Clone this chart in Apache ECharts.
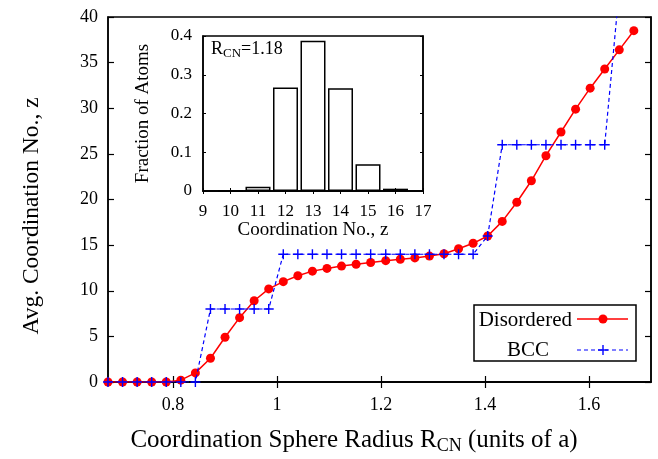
<!DOCTYPE html>
<html>
<head>
<meta charset="utf-8">
<script src="https://cdn.jsdelivr.net/npm/echarts@6/dist/echarts.min.js"></script>
<style>html,body{margin:0;padding:0;background:#fff}#c{width:658px;height:459px}</style>
</head>
<body>
<div id="c"></div>
<script>
// Main plot data
const radius = [0.675, 0.703, 0.731, 0.759, 0.787, 0.815, 0.843, 0.872, 0.900, 0.928,
  0.956, 0.984, 1.012, 1.040, 1.068, 1.096, 1.124, 1.152, 1.180, 1.209,
  1.237, 1.265, 1.293, 1.321, 1.349, 1.377, 1.405, 1.433, 1.461, 1.489,
  1.517, 1.546, 1.574, 1.602, 1.630, 1.658, 1.686];
const disordered = [0, 0, 0, 0, 0, 0.2, 1.0, 2.6, 4.9, 7.05,
  8.9, 10.2, 11.0, 11.65, 12.15, 12.45, 12.7, 12.9, 13.1, 13.3,
  13.45, 13.6, 13.8, 14.05, 14.6, 15.2, 16.0, 17.6, 19.7, 22.05,
  24.8, 27.4, 29.9, 32.2, 34.3, 36.4, 38.5];
const bcc = [0, 0, 0, 0, 0, 0, 0, 8, 8, 8,
  8, 8, 14, 14, 14, 14, 14, 14, 14, 14,
  14, 14, 14, 14, 14, 14, 16, 26, 26, 26,
  26, 26, 26, 26, 26, 43, 50];
const xTicks = [0.8, 1, 1.2, 1.4, 1.6];
const yTicks = [0, 5, 10, 15, 20, 25, 30, 35, 40];

// Inset histogram data (R_CN = 1.18)
const coordNo = [10, 11, 12, 13, 14, 15, 16];
const fraction = [0, 0.011, 0.267, 0.388, 0.265, 0.069, 0.006];
const insetXTicks = [9, 10, 11, 12, 13, 14, 15, 16, 17];

const FONT = 'Liberation Serif';
const chart = echarts.init(document.getElementById('c'), null, {renderer: 'canvas'});

const zip = (a, b) => a.map((v, i) => [v, b[i]]);

const plusPath = 'path://M4.3,0h1.4v10h-1.4z M0,4.3h10v1.4h-10z';

const option = {
  backgroundColor: '#fff',
  animation: false,
  textStyle: {fontFamily: FONT, color: '#000'},
  grid: [
    {left: 108, top: 17, width: 543, height: 365, show: true, borderColor: '#000', borderWidth: 1.5, backgroundColor: 'transparent', z: 1},
    {left: 203, top: 36, width: 220, height: 155, show: true, borderColor: '#000', borderWidth: 1.5, backgroundColor: '#fff', z: 10}
  ],
  xAxis: [
    {
      type: 'value', gridIndex: 0, min: 0.675, max: 1.719, position: 'bottom',
      axisLine: {show: true, lineStyle: {color: '#000', width: 1.5}},
      axisTick: {show: true, inside: true, length: 6, customValues: xTicks, lineStyle: {color: '#000', width: 1.2}},
      axisLabel: {show: true, customValues: xTicks, fontFamily: FONT, fontSize: 18, color: '#000', margin: 14,
        formatter: v => String(Math.round(v * 10) / 10)},
      splitLine: {show: false}
    },
    {
      type: 'value', gridIndex: 0, min: 0.675, max: 1.719, position: 'top',
      axisLine: {show: true, lineStyle: {color: '#000', width: 1.5}},
      axisTick: {show: true, inside: true, length: 6, customValues: xTicks, lineStyle: {color: '#000', width: 1.2}},
      axisLabel: {show: false},
      splitLine: {show: false}
    },
    {
      type: 'value', gridIndex: 1, min: 9, max: 17, interval: 1, position: 'bottom',
      axisLine: {show: true, lineStyle: {color: '#000', width: 1.5}},
      axisTick: {show: true, inside: true, length: 3, lineStyle: {color: '#000', width: 1}},
      axisLabel: {show: true, fontFamily: FONT, fontSize: 17, color: '#000', margin: 12,
        customValues: insetXTicks},
      splitLine: {show: false},
      name: 'Coordination No., z', nameLocation: 'middle', nameGap: 30,
      nameTextStyle: {fontFamily: FONT, fontSize: 19, color: '#000'},
      z: 11
    },
    {
      type: 'value', gridIndex: 1, min: 9, max: 17, interval: 1, position: 'top',
      axisLine: {show: true, lineStyle: {color: '#000', width: 1.5}},
      axisTick: {show: true, inside: true, length: 3, lineStyle: {color: '#000', width: 1}},
      axisLabel: {show: false},
      splitLine: {show: false},
      z: 11
    }
  ],
  yAxis: [
    {
      type: 'value', gridIndex: 0, min: 0, max: 40, interval: 5, position: 'left',
      axisLine: {show: true, lineStyle: {color: '#000', width: 1.5}},
      axisTick: {show: true, inside: true, length: 6, lineStyle: {color: '#000', width: 1.2}},
      axisLabel: {show: true, fontFamily: FONT, fontSize: 18, color: '#000', margin: 10,
        customValues: yTicks},
      splitLine: {show: false}
    },
    {
      type: 'value', gridIndex: 0, min: 0, max: 40, interval: 5, position: 'right',
      axisLine: {show: true, lineStyle: {color: '#000', width: 1.5}},
      axisTick: {show: true, inside: true, length: 6, lineStyle: {color: '#000', width: 1.2}},
      axisLabel: {show: false},
      splitLine: {show: false}
    },
    {
      type: 'value', gridIndex: 1, min: 0, max: 0.4, interval: 0.1, position: 'left',
      axisLine: {show: true, lineStyle: {color: '#000', width: 1.5}},
      axisTick: {show: true, inside: true, length: 3, lineStyle: {color: '#000', width: 1}},
      axisLabel: {show: true, fontFamily: FONT, fontSize: 17, color: '#000', margin: 11,
        formatter: v => v === 0 ? '0' : v.toFixed(1)},
      splitLine: {show: false},
      name: 'Fraction of Atoms', nameLocation: 'middle', nameGap: 50, nameRotate: 90,
      nameTextStyle: {fontFamily: FONT, fontSize: 19, color: '#000'},
      z: 11
    },
    {
      type: 'value', gridIndex: 1, min: 0, max: 0.4, interval: 0.1, position: 'right',
      axisLine: {show: true, lineStyle: {color: '#000', width: 1.5}},
      axisTick: {show: true, inside: true, length: 3, lineStyle: {color: '#000', width: 1}},
      axisLabel: {show: false},
      splitLine: {show: false},
      z: 11
    }
  ],
  series: [
    {
      name: 'Disordered', type: 'line', xAxisIndex: 0, yAxisIndex: 0,
      data: zip(radius, disordered),
      symbol: 'circle', symbolSize: 9,
      itemStyle: {color: '#ff0000'},
      lineStyle: {color: '#ff0000', width: 1.5},
      clip: true, z: 3
    },
    {
      name: 'BCC', type: 'line', xAxisIndex: 0, yAxisIndex: 0,
      data: zip(radius, bcc),
      symbol: plusPath, symbolSize: 10, symbolKeepAspect: true,
      itemStyle: {color: '#0000ff'},
      lineStyle: {color: '#0000ff', width: 1.2, type: [4, 3]},
      clip: true, z: 4
    },
    {
      name: 'Histogram', type: 'bar', xAxisIndex: 2, yAxisIndex: 2,
      data: zip(coordNo, fraction),
      barWidth: 25,
      itemStyle: {color: '#fff', borderColor: '#000', borderWidth: 1.5},
      z: 12
    }
  ],
  graphic: [
    {
      type: 'text', z: 100, x: 354, y: 440,
      style: {
        text: '{a|Coordination Sphere Radius R}{s|CN}{a| (units of a)}',
        textAlign: 'center', textVerticalAlign: 'middle',
        rich: {
          a: {fontFamily: FONT, fontSize: 25, fill: '#000'},
          s: {fontFamily: FONT, fontSize: 18, fill: '#000', padding: [12, 0, 0, 0]}
        }
      }
    },
    {
      type: 'text', z: 100, x: 32, y: 216, rotation: Math.PI / 2,
      style: {
        text: 'Avg. Coordination No., z',
        font: '23.5px "Liberation Serif"', fill: '#000',
        textAlign: 'center', textVerticalAlign: 'middle'
      }
    },
    {
      type: 'text', left: 211, top: 40, z: 100,
      style: {
        text: '{a|R}{s|CN}{a|=1.18}',
        rich: {
          a: {fontFamily: FONT, fontSize: 18, fill: '#000'},
          s: {fontFamily: FONT, fontSize: 13, fill: '#000', padding: [9, 0, 0, 0]}
        }
      }
    },
    {
      type: 'rect', z: 100,
      shape: {x: 474, y: 305, width: 162, height: 56},
      style: {fill: '#fff', stroke: '#000', lineWidth: 1.5}
    },
    {
      type: 'text', z: 101, x: 572, y: 320,
      style: {text: 'Disordered', font: '21px "Liberation Serif"', fill: '#000', textAlign: 'right', textVerticalAlign: 'middle'}
    },
    {
      type: 'line', z: 101,
      shape: {x1: 577, y1: 319, x2: 628, y2: 319},
      style: {stroke: '#ff0000', lineWidth: 1.5}
    },
    {
      type: 'circle', z: 102,
      shape: {cx: 603, cy: 319, r: 4.5},
      style: {fill: '#ff0000'}
    },
    {
      type: 'text', z: 101, x: 549, y: 350,
      style: {text: 'BCC', font: '21px "Liberation Serif"', fill: '#000', textAlign: 'right', textVerticalAlign: 'middle'}
    },
    {
      type: 'line', z: 101,
      shape: {x1: 577, y1: 350, x2: 628, y2: 350},
      style: {stroke: '#0000ff', lineWidth: 1.2, lineDash: [4, 3]}
    },
    {
      type: 'rect', z: 102,
      shape: {x: 598, y: 349.3, width: 10, height: 1.4},
      style: {fill: '#0000ff'}
    },
    {
      type: 'rect', z: 102,
      shape: {x: 602.3, y: 345, width: 1.4, height: 10},
      style: {fill: '#0000ff'}
    }
  ]
};
chart.setOption(option);
</script>
</body>
</html>
